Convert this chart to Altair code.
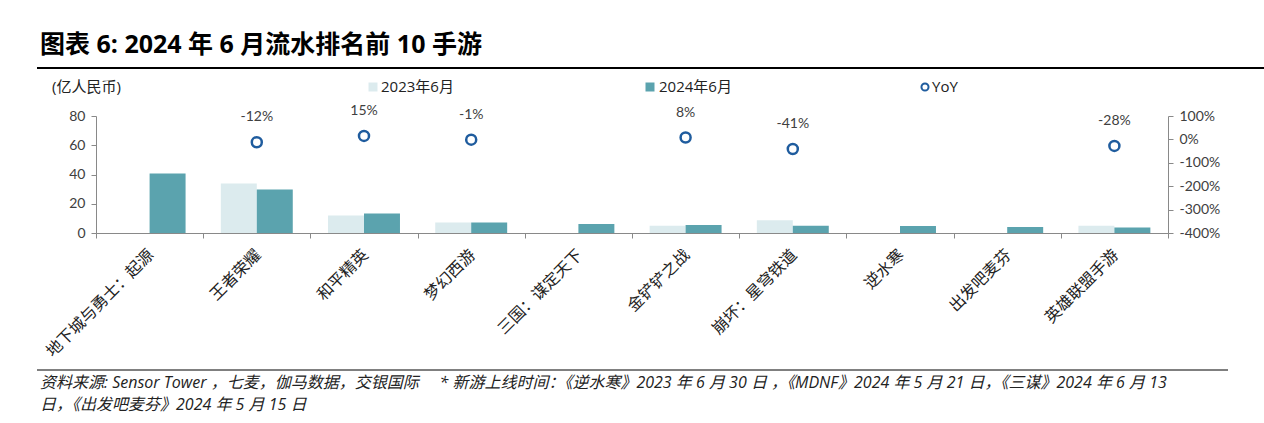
import altair as alt
import pandas as pd

games = ["地下城与勇士：起源", "王者荣耀", "和平精英", "梦幻西游", "三国：谋定天下",
         "金铲铲之战", "崩坏：星穹铁道", "逆水寒", "出发吧麦芬", "英雄联盟手游"]
series = ["2023年6月", "2024年6月"]
v2023 = [None, 33.8, 11.9, 7.1, None, 5.0, 8.7, None, None, 5.0]
v2024 = [40.7, 29.7, 13.3, 7.1, 6.2, 5.5, 5.0, 4.8, 4.1, 3.7]
yoy = [None, -12, 15, -1, None, 8, -41, None, None, -28]
left_ticks = [0, 20, 40, 60, 80]
right_ticks = [-400, -300, -200, -100, 0, 100]

NB = "\u00a0"
title_text = "图表 6: 2024 年 6 月流水排名前 10 手游"
unit_text = "(亿人民币)"
footer1 = ("资料来源: Sensor Tower" + NB + "，七麦，伽马数据，交银国际" + NB * 5 +
           "* 新游上线时间：《逆水寒》2023 年 6 月 30 日" + NB + "，"
           "《MDNF》2024 年 5 月 21 日，《三谋》2024 年 6 月 13")
footer2 = "日，《出发吧麦芬》2024 年 5 月 15 日"

C23 = "#DCEBEE"
C24 = "#5BA3AE"
CYOY = "#1F5C9E"
GRAY = "#898989"
TXT = "#404040"
CJK = "Noto Sans CJK SC"
MIX = "Open Sans, Noto Sans CJK SC"
NUM = "Lato"

rows = []
for g, a, b in zip(games, v2023, v2024):
    if a is not None:
        rows.append({"game": g, "series": series[0], "value": a})
    if b is not None:
        rows.append({"game": g, "series": series[1], "value": b})
bars_df = pd.DataFrame(rows)
yoy_df = pd.DataFrame([{"game": g, "yoy": y, "label": f"{y}%"} for g, y in zip(games, yoy) if y is not None])

W, H = 1072, 117

x_enc = alt.X("game:N", sort=games,
              scale=alt.Scale(domain=games, paddingInner=0, paddingOuter=0),
              axis=alt.Axis(title=None, tickBand="extent", labelAngle=-45, labelAlign="right",
                            labelBaseline="middle", labelOffset=1, labelPadding=14,
                            labelFont=CJK, labelFontSize=16, labelColor="#222222",
                            tickSize=5, tickColor=GRAY, domainColor=GRAY,
                            labelOverlap=False, labelLimit=300))

bars = alt.Chart(bars_df).mark_bar().encode(
    x=x_enc,
    xOffset=alt.XOffset("series:N", sort=series,
                        scale=alt.Scale(domain=series, paddingInner=0, paddingOuter=0.49)),
    y=alt.Y("value:Q", scale=alt.Scale(domain=[0, 80], nice=False),
            axis=alt.Axis(title=None, values=left_ticks, grid=False, tickSize=5,
                          tickColor=GRAY, domainColor=GRAY, labelColor=TXT,
                          labelFont=NUM, labelFontSize=14, labelPadding=6,
                          labelOverlap=False)),
    color=alt.Color("series:N", scale=alt.Scale(domain=series, range=[C23, C24]), legend=None),
)

y_yoy = alt.Y("yoy:Q", scale=alt.Scale(domain=[-400, 100], nice=False),
              axis=alt.Axis(title=None, orient="right", values=right_ticks, grid=False,
                            tickSize=5, tickColor=GRAY, domainColor=GRAY, labelColor=TXT,
                            labelFont=NUM, labelFontSize=14, labelPadding=6,
                            labelOverlap=False, labelFlush=False,
                            labelExpr="datum.value + '%'"))
points = alt.Chart(yoy_df).mark_point(shape="circle", filled=False, size=100,
                                      strokeWidth=2.5, color=CYOY, opacity=1).encode(
    x=x_enc, y=y_yoy)
yoy_text = alt.Chart(yoy_df).mark_text(dy=-25, fontSize=14, font=NUM, color=TXT).encode(
    x=x_enc, y=y_yoy, text="label:N")

one = pd.DataFrame({"k": [0]})

def txt(text, x, y, **kw):
    return alt.Chart(one).mark_text(text=text, align="left", baseline="middle", **kw).encode(
        x=alt.value(x), y=alt.value(y))

title = txt(title_text, -56, -71, font=MIX, fontSize=25, fontWeight="bold", color="#000000")
title_rule = alt.Chart(one).mark_rule(color="#000000", strokeWidth=2).encode(
    x=alt.value(-59), x2=alt.value(1168), y=alt.value(-48))
unit = txt(unit_text, -44, -29, font=MIX, fontSize=15, color="#222222")
leg_sq1 = alt.Chart(one).mark_square(size=81, color=C23, opacity=1).encode(
    x=alt.value(277), y=alt.value(-29))
leg_t1 = txt(series[0], 285, -29, font=MIX, fontSize=15, color="#222222")
leg_sq2 = alt.Chart(one).mark_square(size=81, color=C24, opacity=1).encode(
    x=alt.value(554), y=alt.value(-29))
leg_t2 = txt(series[1], 563, -29, font=MIX, fontSize=15, color="#222222")
leg_c = alt.Chart(one).mark_point(shape="circle", filled=False, size=50, strokeWidth=2,
                                  color=CYOY, opacity=1).encode(x=alt.value(829), y=alt.value(-29))
leg_t3 = txt("YoY", 836, -29, font=MIX, fontSize=15, color="#222222")
foot_rule = alt.Chart(one).mark_rule(color="#000000", strokeWidth=1).encode(
    x=alt.value(-59), x2=alt.value(1132), y=alt.value(254))
foot1 = txt(footer1, -56, 267, font=MIX, fontSize=16, fontStyle="italic", color="#222222")
foot2 = txt(footer2, -56, 289, font=MIX, fontSize=16, fontStyle="italic", color="#222222")

data_layer = alt.layer(bars, alt.layer(points, yoy_text)).resolve_scale(y="independent")

chart = alt.layer(
    data_layer, title, title_rule, unit, leg_sq1, leg_t1, leg_sq2, leg_t2, leg_c, leg_t3,
    foot_rule, foot1, foot2
).properties(
    width=W, height=H,
    autosize=alt.AutoSizeParams(type="none"),
    padding={"left": 96, "top": 116, "right": 96, "bottom": 190},
    background="white",
).configure_view(stroke=None)

chart.save("out.html", embed_options={"renderer": "svg", "actions": False})
